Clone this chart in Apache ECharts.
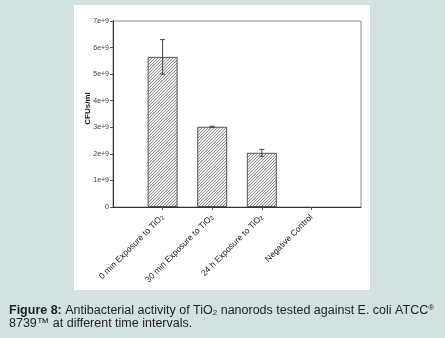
<!DOCTYPE html>
<html>
<head>
<meta charset="utf-8">
<script src="https://cdn.jsdelivr.net/npm/echarts@6/dist/echarts.min.js"></script>
<style>
  html, body { margin: 0; padding: 0; background: #d3e1e1; }
  #chart { width: 445px; height: 338px; }
</style>
</head>
<body>
<div id="chart"></div>
<script>
// Treatment groups (the "2" of TiO2 is drawn as a subscript)
const categories = ['0 min Exposure to TiO2', '30 min Exposure to TiO2', '24 h Exposure to TiO2', 'Negative Control'];
// Mean colony counts (CFUs/ml) and standard deviations
const cfuValues = [5.65e9, 3.02e9, 2.04e9, 0];
const cfuErrors = [0.65e9, 0.02e9, 0.13e9, 0];
// Y axis ticks
const yTicks = [0, 1e9, 2e9, 3e9, 4e9, 5e9, 6e9, 7e9];

const FONT = 'Liberation Sans, Arial, sans-serif';

// Fine diagonal hatch used to fill the bars
function hatchPattern() {
  const c = document.createElement('canvas');
  c.width = 3; c.height = 3;
  const g = c.getContext('2d');
  g.fillStyle = '#eeeeee';
  g.fillRect(0, 0, 3, 3);
  g.fillStyle = '#8e8e8e';
  g.fillRect(0, 2, 1, 1);
  g.fillRect(1, 1, 1, 1);
  g.fillRect(2, 0, 1, 1);
  return c;
}

// Category slots: an empty slot on each side keeps the bars off the frame
const axisCats = [''].concat(categories, ['']);

const chart = echarts.init(document.getElementById('chart'), null, { renderer: 'canvas' });

const option = {
  backgroundColor: '#d3e1e1',
  animation: false,
  graphic: [
    {
      type: 'rect',
      shape: { x: 74, y: 5, width: 296, height: 285 },
      style: { fill: '#ffffff' },
      z: -10
    },
    {
      // y axis title
      type: 'text',
      x: 87.5,
      y: 108.5,
      rotation: Math.PI / 2,
      style: {
        text: 'CFUs/ml',
        fontFamily: FONT,
        fontWeight: 'bold',
        fontSize: 8,
        fill: '#222222',
        align: 'center',
        verticalAlign: 'middle'
      }
    },
    {
      // figure caption
      type: 'text',
      left: 9,
      top: 304,
      style: {
        text: '{b|Figure 8:} Antibacterial activity of TiO{sub|2} nanorods tested against E. coli ATCC{sup|®}\n8739™ at different time intervals.',
        fontFamily: FONT,
        fontSize: 12.5,
        lineHeight: 13,
        fill: '#1e1e1e',
        rich: {
          b: { fontWeight: 'bold', fontSize: 12.5, fontFamily: FONT, fill: '#1e1e1e' },
          sub: { fontSize: 8, verticalAlign: 'bottom', fontFamily: FONT, fill: '#1e1e1e', padding: [4, 0, 0, 0] },
          sup: { fontSize: 8, verticalAlign: 'top', fontFamily: FONT, fill: '#1e1e1e', padding: [0, 0, 4, 0] }
        }
      }
    }
  ],
  grid: {
    left: 113, right: 84, top: 21, bottom: 131,
    show: true,
    borderColor: '#8c8c8c',
    borderWidth: 1,
    backgroundColor: 'transparent'
  },
  xAxis: {
    type: 'category',
    data: axisCats,
    boundaryGap: false,
    axisLine: { lineStyle: { color: '#333333', width: 1 } },
    axisTick: {
      length: 3,
      interval: function (i) { return i >= 1 && i <= categories.length; },
      lineStyle: { color: '#555555' }
    },
    axisLabel: {
      interval: 0,
      rotate: 45,
      margin: 9,
      fontFamily: FONT,
      fontSize: 8.5,
      color: '#1a1a1a',
      formatter: function (v) {
        if (!v) return '';
        return v.replace(/TiO2$/, 'TiO{s|2}');
      },
      rich: {
        s: { fontSize: 6, verticalAlign: 'bottom', color: '#1a1a1a', fontFamily: FONT }
      }
    },
    splitLine: { show: false }
  },
  yAxis: {
    type: 'value',
    min: yTicks[0],
    max: yTicks[yTicks.length - 1],
    interval: 1e9,
    axisLine: { show: true, lineStyle: { color: '#333333', width: 1 } },
    axisTick: { show: true, length: 3, lineStyle: { color: '#555555' } },
    axisLabel: {
      margin: 4,
      fontFamily: FONT,
      fontSize: 7,
      color: '#3a3a3a',
      formatter: function (v) { return v === 0 ? '0' : (v / 1e9) + 'e+9'; }
    },
    splitLine: { show: false }
  },
  series: [
    {
      type: 'bar',
      barWidth: 30,
      data: cfuValues.map(function (v, i) {
        return {
          value: [i + 1, v],
          itemStyle: { borderWidth: v > 0 ? 1 : 0 }
        };
      }),
      itemStyle: {
        color: { image: hatchPattern(), repeat: 'repeat' },
        borderColor: '#555555',
        borderWidth: 1
      },
      z: 2
    },
    {
      type: 'custom',
      data: cfuValues.map(function (v, i) { return [i + 1, v - cfuErrors[i], v + cfuErrors[i]]; }),
      renderItem: function (params, api) {
        const x = api.value(0);
        const lo = api.coord([x, api.value(1)]);
        const hi = api.coord([x, api.value(2)]);
        if (Math.abs(lo[1] - hi[1]) < 0.5) {
          return { type: 'group', children: [] };
        }
        const cap = 2.5;
        const style = { stroke: '#444444', lineWidth: 1 };
        return {
          type: 'group',
          children: [
            { type: 'line', shape: { x1: lo[0], y1: lo[1], x2: hi[0], y2: hi[1] }, style: style },
            { type: 'line', shape: { x1: hi[0] - cap, y1: hi[1], x2: hi[0] + cap, y2: hi[1] }, style: style },
            { type: 'line', shape: { x1: lo[0] - cap, y1: lo[1], x2: lo[0] + cap, y2: lo[1] }, style: style }
          ]
        };
      },
      z: 5
    }
  ]
};

chart.setOption(option);
</script>
</body>
</html>
